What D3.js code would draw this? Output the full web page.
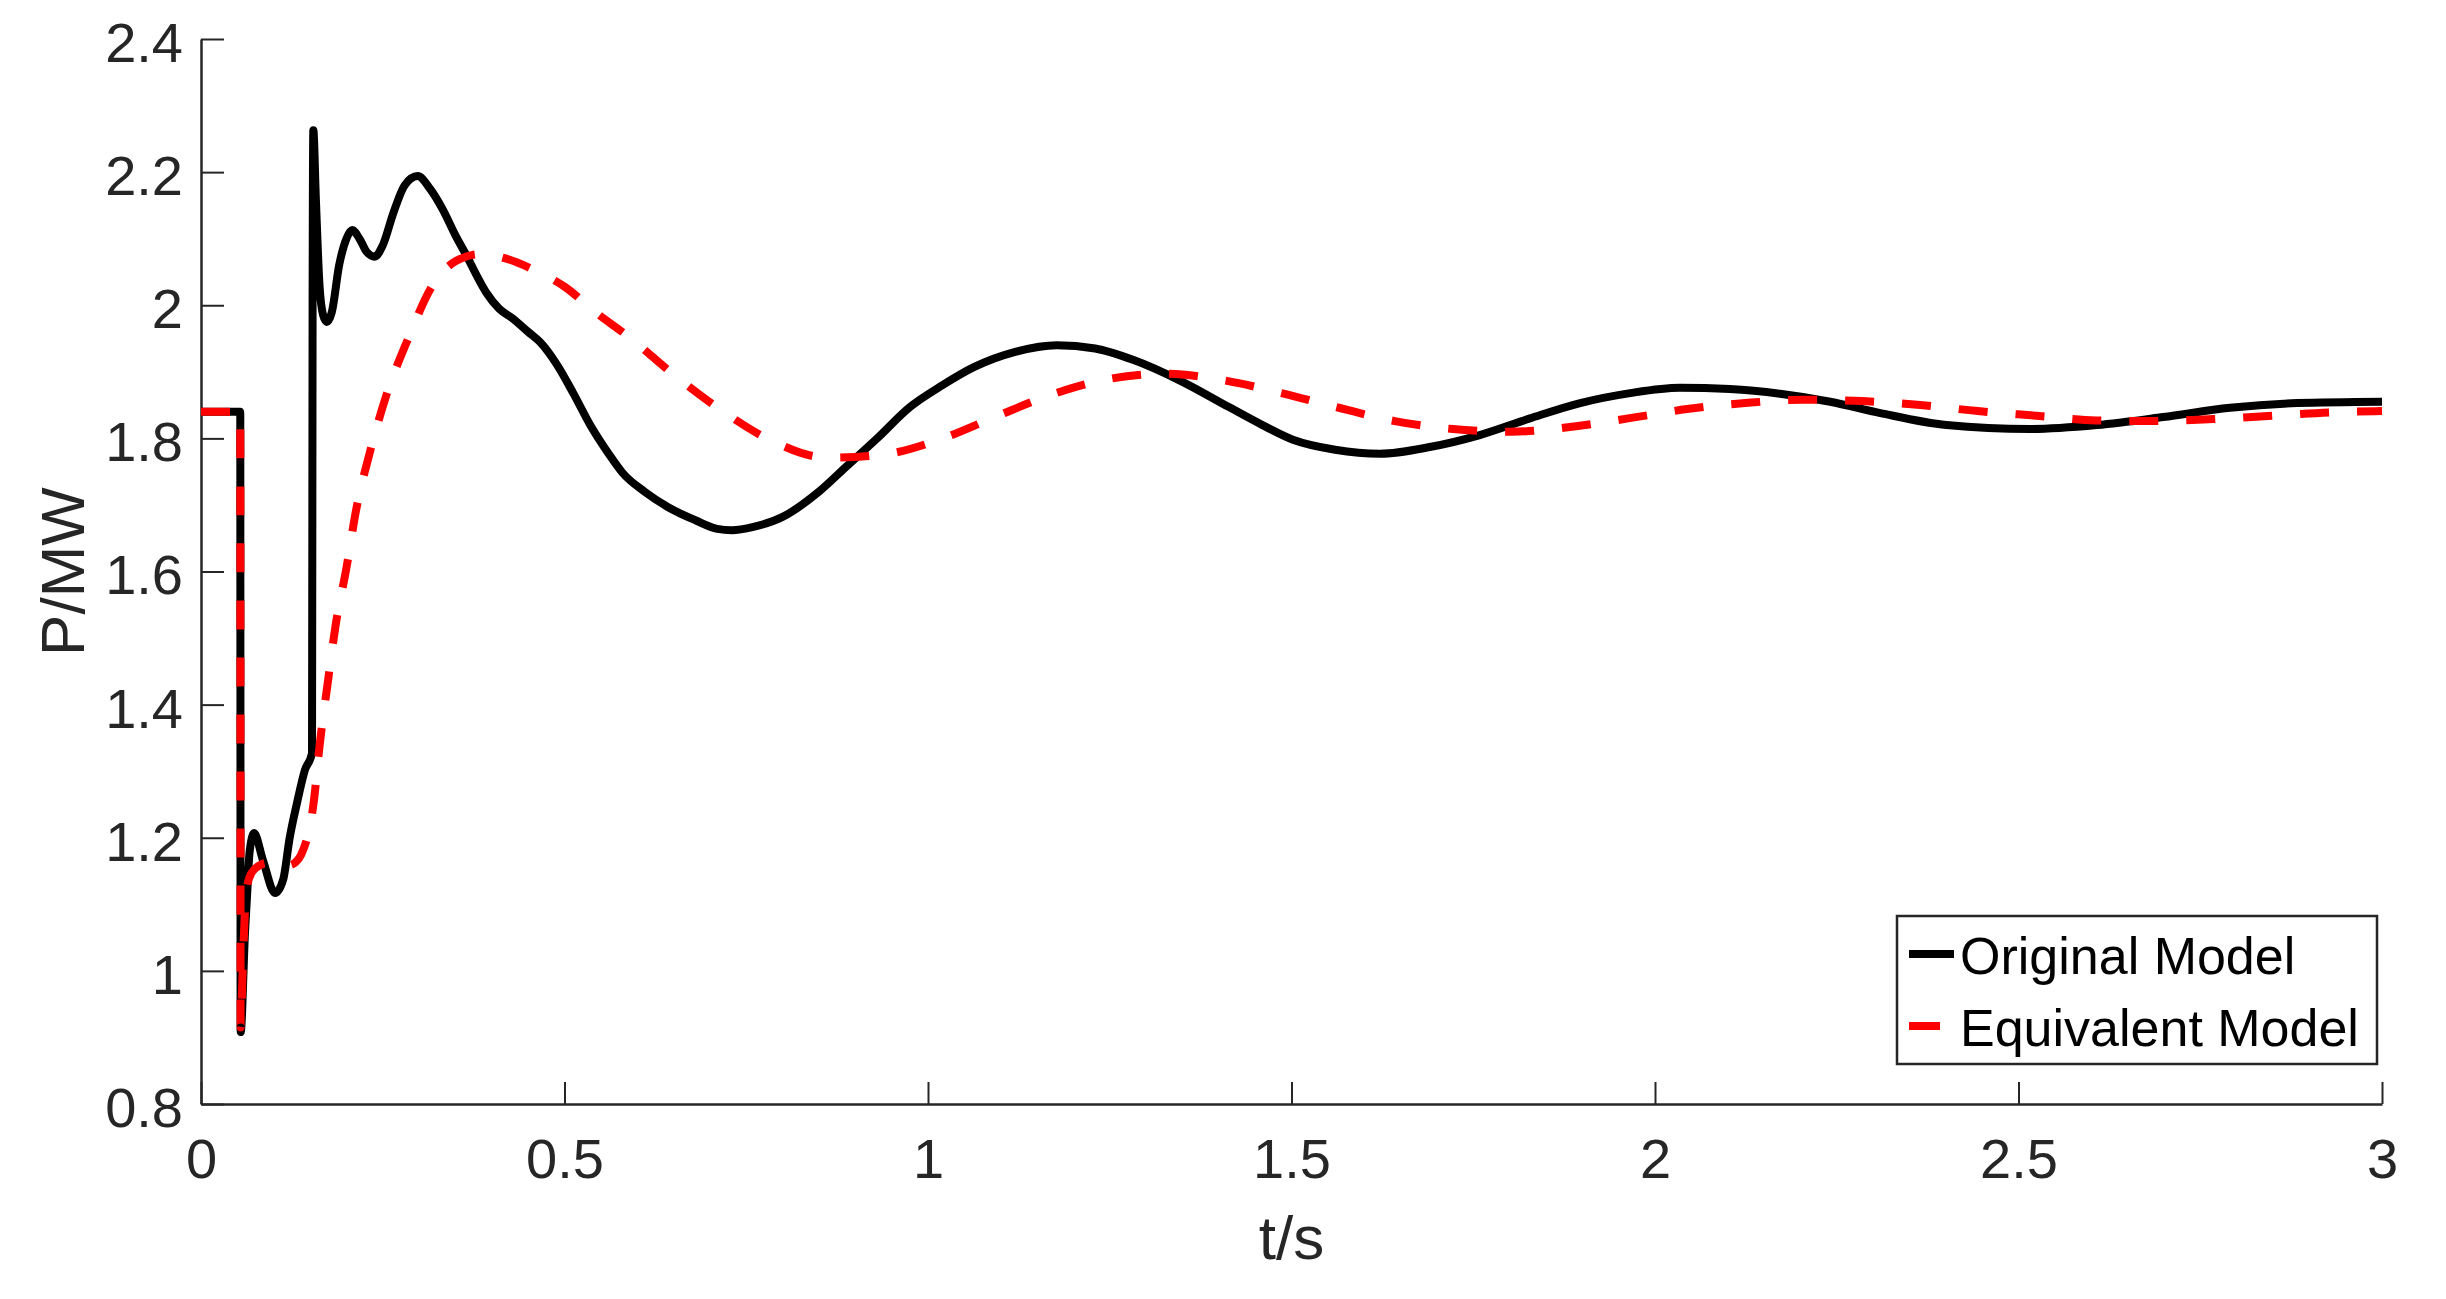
<!DOCTYPE html>
<html>
<head>
<meta charset="utf-8">
<script src="https://cdn.jsdelivr.net/npm/d3@7"></script>
<style>
    body { margin: 0; background: #fff; }
    svg { display: block; }
    text { font-family: Arial, "Liberation Sans", sans-serif; }
</style>
</head>
<body>
<svg id="chart" width="2446" height="1299"></svg>
<script>

// time (s) and power (MW)
const timeOriginal = [0, 0.054, 0.0545, 0.0605, 0.063, 0.067, 0.073, 0.085, 0.102, 0.113, 0.122, 0.132, 0.143, 0.1527,
    0.1535, 0.1545, 0.158, 0.163, 0.168, 0.173, 0.18, 0.19, 0.2, 0.208, 0.218, 0.228, 0.239, 0.25, 0.265, 0.28, 0.298,
    0.315, 0.333, 0.35, 0.366, 0.38, 0.393, 0.41, 0.429, 0.45, 0.466, 0.49, 0.512, 0.537, 0.56, 0.58, 0.61, 0.642,
    0.68, 0.71, 0.73, 0.76, 0.8, 0.85, 0.887, 0.93, 0.975, 1.02, 1.063, 1.12, 1.177, 1.23, 1.282, 1.35, 1.414, 1.46,
    1.502, 1.56, 1.622, 1.69, 1.759, 1.828, 1.897, 1.966, 2.034, 2.103, 2.172, 2.241, 2.31, 2.401, 2.516, 2.608,
    2.699, 2.791, 2.883, 3.0];
const powerOriginal = [1.84, 1.84, 0.908, 1.057, 1.106, 1.18, 1.207, 1.167, 1.117, 1.137, 1.2, 1.252, 1.302, 1.327,
    2.0, 2.263, 2.16, 2.03, 1.985, 1.975, 1.99, 2.06, 2.1, 2.113, 2.1, 2.08, 2.073, 2.09, 2.14, 2.18, 2.194,
    2.175, 2.143, 2.105, 2.073, 2.043, 2.018, 1.995, 1.98, 1.96, 1.945, 1.91, 1.868, 1.817, 1.778, 1.748, 1.72, 1.697,
    1.677, 1.664, 1.662, 1.667, 1.682, 1.72, 1.757, 1.8, 1.847, 1.88, 1.907, 1.93, 1.94, 1.935, 1.918, 1.885, 1.847, 1.82,
    1.798, 1.783, 1.777, 1.787, 1.805, 1.83, 1.853, 1.868, 1.876, 1.874, 1.867, 1.855, 1.838, 1.82, 1.814, 1.82,
    1.832, 1.846, 1.853, 1.855];

const timeEquivalent = [0, 0.054, 0.0545, 0.057, 0.06, 0.064, 0.07, 0.08, 0.09, 0.1, 0.11, 0.12, 0.13, 0.138, 0.155,
    0.1635, 0.174, 0.185, 0.2, 0.2135, 0.2325, 0.255, 0.285, 0.3175, 0.35, 0.385, 0.42, 0.46, 0.5, 0.542, 0.589,
    0.651, 0.716, 0.784, 0.862, 0.94, 1.018, 1.094, 1.168, 1.248, 1.327, 1.408, 1.486, 1.565, 1.642, 1.722, 1.803,
    1.883, 1.963, 2.044, 2.124, 2.204, 2.285, 2.365, 2.444, 2.525, 2.607, 2.687, 2.768, 2.849, 2.929, 3.0];
const powerEquivalent = [1.84, 1.84, 0.915, 0.99, 1.08, 1.13, 1.148, 1.158, 1.162, 1.16, 1.156, 1.158, 1.163, 1.175, 1.253,
    1.342, 1.43, 1.518, 1.605, 1.693, 1.78, 1.865, 1.95, 2.028, 2.066, 2.077, 2.07, 2.052, 2.028, 1.99, 1.952,
    1.895, 1.842, 1.797, 1.771, 1.776, 1.799, 1.833, 1.865, 1.889, 1.897, 1.887, 1.868, 1.846, 1.826, 1.814, 1.81,
    1.817, 1.83, 1.844, 1.853, 1.858, 1.856, 1.85, 1.841, 1.834, 1.827, 1.826, 1.829, 1.834, 1.839, 1.841];

const xTicks = [0, 0.5, 1, 1.5, 2, 2.5, 3];
const xTickLabels = ["0", "0.5", "1", "1.5", "2", "2.5", "3"];
const yTicks = [0.8, 1, 1.2, 1.4, 1.6, 1.8, 2, 2.2, 2.4];
const yTickLabels = ["0.8", "1", "1.2", "1.4", "1.6", "1.8", "2", "2.2", "2.4"];

const seriesNames = ["Original Model", "Equivalent Model"];

const margin = { left: 201, right: 2382, top: 39, bottom: 1104 };
const axisColor = "#262626";

const svg = d3.select("#chart");

const x = d3.scaleLinear().domain([0, 3]).range([margin.left, margin.right]);
const y = d3.scaleLinear().domain([0.8, 2.4]).range([margin.bottom, margin.top]);

// axes, ticks point inward like matlab
const xAxis = d3.axisBottom(x)
    .tickValues(xTicks)
    .tickFormat((d, i) => xTickLabels[i])
    .tickSizeInner(-22)
    .tickSizeOuter(0)
    .tickPadding(34);

const yAxis = d3.axisLeft(y)
    .tickValues(yTicks)
    .tickFormat((d, i) => yTickLabels[i])
    .tickSizeInner(-23)
    .tickSizeOuter(0)
    .tickPadding(18);

const gx = svg.append("g")
    .attr("transform", `translate(0,${margin.bottom})`)
    .call(xAxis);

const gy = svg.append("g")
    .attr("transform", `translate(${margin.left},0)`)
    .call(yAxis);

[gx, gy].forEach(g => {
    g.select(".domain").attr("stroke", axisColor).attr("stroke-width", 2.5);
    g.selectAll(".tick line").attr("stroke", axisColor).attr("stroke-width", 2);
    g.selectAll(".tick text")
        .attr("fill", axisColor)
        .attr("font-size", 56)
        .attr("font-family", "Arial, 'Liberation Sans', sans-serif");
});
gy.selectAll(".tick text").attr("dy", "0.4em");

svg.append("text")
    .attr("x", (margin.left + margin.right) / 2)
    .attr("y", 1259)
    .attr("text-anchor", "middle")
    .attr("font-size", 62)
    .attr("fill", axisColor)
    .text("t/s");

svg.append("text")
    .attr("transform", `translate(84,${(margin.top + margin.bottom) / 2}) rotate(-90)`)
    .attr("text-anchor", "middle")
    .attr("font-size", 62)
    .attr("fill", axisColor)
    .text("P/MW");

// lines
const line = d3.line()
    .x(d => x(d[0]))
    .y(d => y(d[1]))
    .curve(d3.curveMonotoneX);

const original = timeOriginal.map((t, i) => [t, powerOriginal[i]]);
const equivalent = timeEquivalent.map((t, i) => [t, powerEquivalent[i]]);

svg.append("path")
    .datum(original)
    .attr("d", line)
    .attr("fill", "none")
    .attr("stroke", "#000")
    .attr("stroke-width", 8)
    .attr("stroke-linejoin", "round");

svg.append("path")
    .datum(equivalent)
    .attr("d", line)
    .attr("fill", "none")
    .attr("stroke", "#ff0000")
    .attr("stroke-width", 8)
    .attr("stroke-dasharray", "29,28");

// legend
const legend = svg.append("g");

legend.append("rect")
    .attr("x", 1897)
    .attr("y", 916)
    .attr("width", 480)
    .attr("height", 148)
    .attr("fill", "#fff")
    .attr("stroke", axisColor)
    .attr("stroke-width", 2.5);

const legendRows = [
    { name: seriesNames[0], color: "#000", dash: null, len: 45, y: 954 },
    { name: seriesNames[1], color: "#ff0000", dash: "31,40", len: 45, y: 1026 }
];

legendRows.forEach(row => {
    legend.append("line")
        .attr("x1", 1909)
        .attr("x2", 1909 + row.len)
        .attr("y1", row.y)
        .attr("y2", row.y)
        .attr("stroke", row.color)
        .attr("stroke-width", 8)
        .attr("stroke-dasharray", row.dash);

    legend.append("text")
        .attr("x", 1960)
        .attr("y", row.y + 20)
        .attr("font-size", 52)
        .attr("fill", "#000")
        .text(row.name);
});

</script>
</body>
</html>
